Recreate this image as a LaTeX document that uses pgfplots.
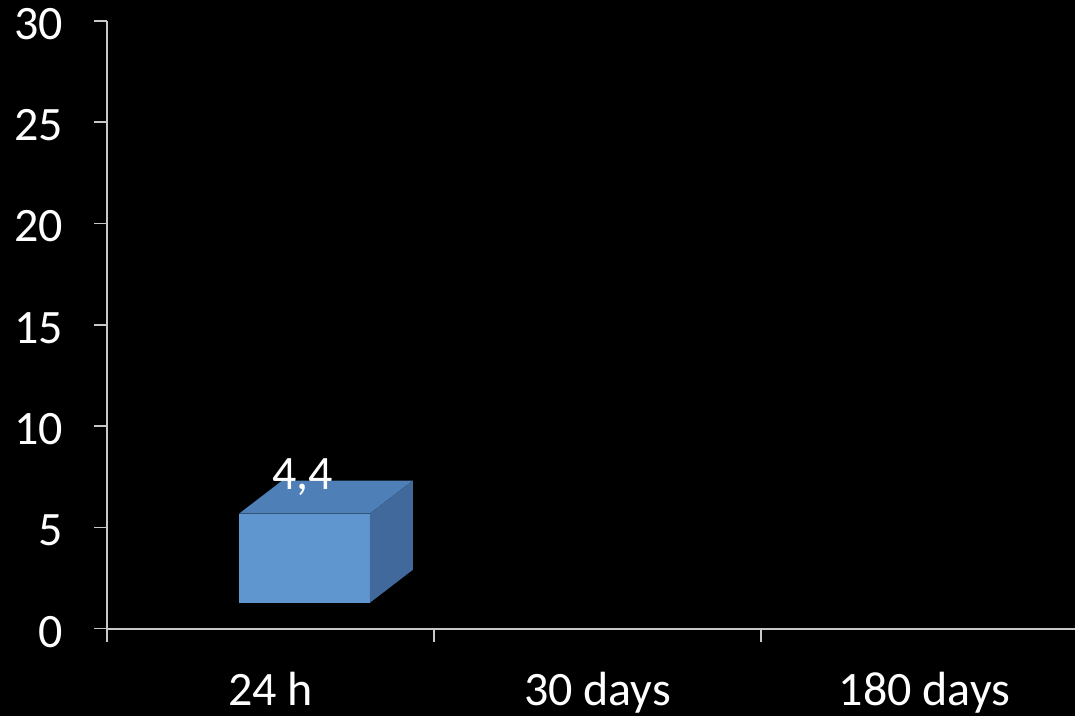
\documentclass[border=0pt]{standalone}
\usepackage{fontspec}
\setmainfont{Carlito}
\usepackage{pgfplots}
\pgfplotsset{compat=1.18}

\definecolor{axgray}{HTML}{C8C8C8}
\definecolor{barfront}{HTML}{6096D0}
\definecolor{bartop}{HTML}{4E7FB6}
\definecolor{barside}{HTML}{41699B}

% bar value and the geometry of the 3-D box
\def\val{4.4}      % value of the 24 h bar
\def\floor{1.28}   % height of the chart floor at the front
\def\xl{-0.096}    % front face, left edge
\def\xr{0.304}     % front face, right edge
\def\dx{0.1315}    % depth offset, x
\def\dy{1.63}      % depth offset, y

\begin{document}
\begin{tikzpicture}
\fill[black] (0,0) rectangle (537.5pt,358pt);
\path[use as bounding box] (0,0) rectangle (537.5pt,358pt);
\begin{axis}[
  at={(53.5pt,43.65pt)}, anchor=south west,
  scale only axis, width=490.5pt, height=303.85pt,
  xmin=-0.5, xmax=2.5, ymin=0, ymax=30,
  axis x line=bottom, axis y line=left,
  axis line style={-, draw=axgray, line width=1pt},
  ytick={0,5,...,30},
  xtick={-0.5,0.5,1.5,2.5},
  xticklabels={24 h,30 days,180 days},
  x tick label as interval,
  tick align=outside, major tick length=6.5pt,
  tick style={draw=axgray, line width=0.8pt},
  tick label style={white, font=\fontsize{24}{28}\selectfont},
  /pgf/number format/assume math mode=true,
  yticklabel style={xshift=-12pt, yshift=-1.5pt},
  xticklabel style={yshift=-11.5pt},
  clip=false,
]
% front face
\addplot[fill=barfront, draw=none] coordinates {
  (\xl,\floor) (\xr,\floor) (\xr,\floor+\val) (\xl,\floor+\val)} -- cycle;
% top face
\addplot[fill=bartop, draw=none] coordinates {
  (\xl,\floor+\val) (\xr,\floor+\val) (\xr+\dx,\floor+\val+\dy) (\xl+\dx,\floor+\val+\dy)} -- cycle;
% side face
\addplot[fill=barside, draw=none] coordinates {
  (\xr,\floor) (\xr+\dx,\floor+\dy) (\xr+\dx,\floor+\val+\dy) (\xr,\floor+\val)} -- cycle;
\node[white, anchor=base, font=\fontsize{24}{28}\selectfont]
  at (axis cs:0.099,6.85) {4,4};
\end{axis}
\end{tikzpicture}
\end{document}
